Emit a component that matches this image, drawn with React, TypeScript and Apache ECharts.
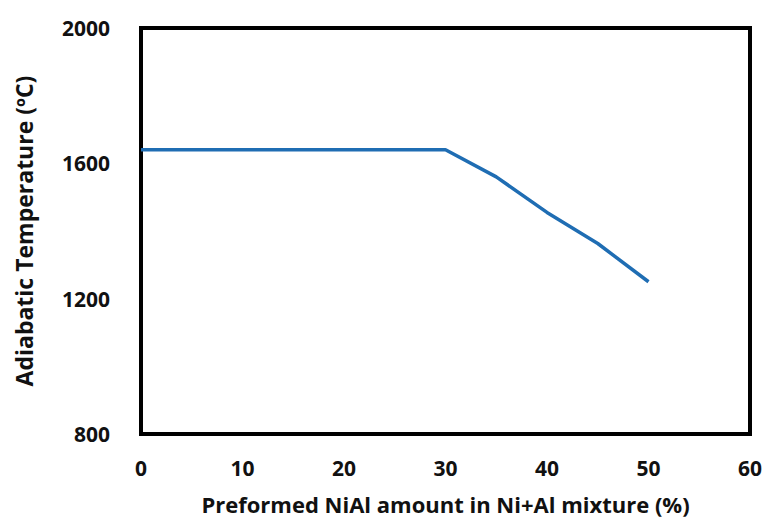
import React, { useEffect, useRef } from "react";
import * as echarts from "echarts";

const xValues = [0, 10, 20, 30, 35, 40, 45, 50];
const tempValues = [1640, 1640, 1640, 1640, 1560, 1455, 1363, 1250];
const xTitle = "Preformed NiAl amount in Ni+Al mixture (%)";
const yTitle = "Adiabatic Temperature (ºC)";

export default function App() {
  const ref = useRef<HTMLDivElement>(null);
  useEffect(() => {
    if (!ref.current) return;
    const chart = echarts.init(ref.current, null, { renderer: "svg" });
    const font = "'Open Sans', 'Noto Sans', sans-serif";
    const txt = { fontFamily: font, fontWeight: "bold", fontSize: 21, color: "#111111" };
    chart.setOption({
      animation: false,
      backgroundColor: "#ffffff",
      grid: {
        left: 141,
        top: 28,
        right: 16,
        bottom: 87,
        containLabel: false,
        outerBoundsMode: "none",
        show: true,
        borderColor: "#000000",
        borderWidth: 4,
        backgroundColor: "transparent",
      },
      xAxis: {
        type: "value",
        min: 0,
        max: 60,
        interval: 10,
        name: xTitle,
        nameLocation: "middle",
        nameGap: 59,
        nameTextStyle: { ...txt, fontSize: 22 },
        axisLine: { show: false },
        axisTick: { show: false },
        splitLine: { show: false },
        axisLabel: { ...txt, margin: 23, formatter: (v: number) => String(v) },
      },
      yAxis: {
        type: "value",
        min: 800,
        max: 2000,
        interval: 400,
        name: yTitle,
        nameLocation: "middle",
        nameGap: 106,
        nameRotate: 90,
        nameTextStyle: { ...txt, fontSize: 23 },
        axisLine: { show: false },
        axisTick: { show: false },
        splitLine: { show: false },
        axisLabel: { ...txt, margin: 31, formatter: (v: number) => String(v) },
      },
      series: [
        {
          type: "line",
          data: xValues.map((x, i) => [x, tempValues[i]]),
          showSymbol: false,
          symbol: "none",
          lineStyle: { color: "#1f6db3", width: 3.5 },
        },
      ],
    });
    return () => chart.dispose();
  }, []);
  return (
    <div
      ref={ref}
      style={{ position: "fixed", left: 0, top: 0, width: 766, height: 521 }}
    />
  );
}
